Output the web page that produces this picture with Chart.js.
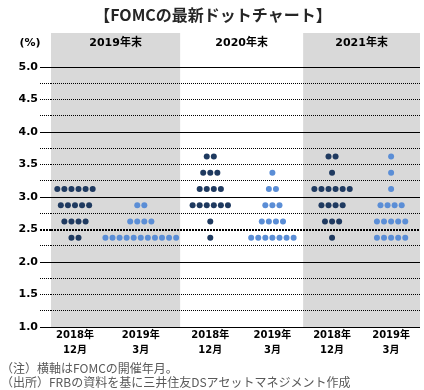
<!DOCTYPE html>
<html lang="ja">
<head>
<meta charset="UTF-8">
<title>FOMCの最新ドットチャート</title>
<script src="https://cdn.jsdelivr.net/npm/chart.js"></script>
<style>
  body { margin: 0; background: #fff; }
</style>
</head>
<body>
<canvas id="chart" width="424" height="390"></canvas>
<script>
const title = '【FOMCの最新ドットチャート】';
const years = ['2019年末', '2020年末', '2021年末'];
const meetings = [['2018年', '12月'], ['2019年', '3月']];
const levels = [3.625, 3.375, 3.125, 2.875, 2.625, 2.375];
// dots per level (top to bottom), one row per year-end
const dec2018 = [
  [0, 0, 6, 5, 4, 2],
  [2, 3, 4, 6, 1, 1],
  [2, 1, 6, 4, 3, 1]
];
const mar2019 = [
  [0, 0, 0, 2, 4, 11],
  [0, 1, 2, 3, 4, 7],
  [1, 1, 1, 4, 5, 5]
];
const notes = [
  '（注）横軸はFOMCの開催年月。',
  '（出所）FRBの資料を基に三井住友DSアセットマネジメント作成'
];

// x slots for the 6 columns, and the edges of the 3 year bands
const slotX = [0.39, 1.46, 2.59, 3.6, 4.57, 5.53];
const bandEdges = [0, 2.1, 4.1, 6];
const dotGap = 0.115;
const font = "'DejaVu Sans', 'Noto Sans CJK JP', sans-serif";
const jpFont = "'Noto Sans CJK JP', sans-serif";

function dots(counts, first) {
  const pts = [];
  counts.forEach((row, g) => {
    const cx = slotX[g * 2 + first];
    row.forEach((n, k) => {
      for (let i = 0; i < n; i++) {
        pts.push({ x: cx + (i - (n - 1) / 2) * dotGap, y: levels[k] });
      }
    });
  });
  return pts;
}

const decor = {
  id: 'decor',
  beforeDraw(chart) {
    const { ctx, chartArea, scales } = chart;
    ctx.save();
    ctx.fillStyle = '#d9d9d9';
    [0, 2].forEach(i => {
      const x1 = scales.x.getPixelForValue(bandEdges[i]);
      const x2 = scales.x.getPixelForValue(bandEdges[i + 1]);
      ctx.fillRect(x1, 33, x2 - x1, chartArea.bottom - 33);
    });
    ctx.restore();
  },
  afterDraw(chart) {
    const { ctx, scales } = chart;
    ctx.save();
    ctx.textBaseline = 'middle';
    ctx.textAlign = 'center';
    ctx.fillStyle = '#262626';
    ctx.font = 'bold 16px ' + jpFont;
    ctx.fillText(title, 213, 15);

    ctx.fillStyle = '#000';
    ctx.font = 'bold 11px ' + font;
    years.forEach((y, i) => {
      const cx = (scales.x.getPixelForValue(bandEdges[i]) + scales.x.getPixelForValue(bandEdges[i + 1])) / 2;
      ctx.fillText(y, cx, 43);
    });
    ctx.fillText('(%)', 30, 43);

    ctx.textAlign = 'left';
    ctx.fillStyle = '#595959';
    ctx.font = '12px ' + jpFont;
    ctx.fillText(notes[0], 1, 368);
    ctx.fillText(notes[1], 1, 382);
    ctx.restore();
  }
};

const isInt = v => Math.abs(v - Math.round(v)) < 1e-6;
const isMid = v => Math.abs(v - 2.5) < 1e-6;
const dashFor = ctx => {
  const v = ctx.tick ? ctx.tick.value : 0;
  if (isInt(v)) return [];
  if (isMid(v)) return [2, 1];
  return [1, 1];
};

new Chart(document.getElementById('chart'), {
  type: 'scatter',
  data: {
    datasets: [
      {
        label: '2018年12月',
        data: dots(dec2018, 0),
        backgroundColor: '#1f3a60',
        pointRadius: 3,
        borderWidth: 0
      },
      {
        label: '2019年3月',
        data: dots(mar2019, 1),
        backgroundColor: '#5b8ed6',
        pointRadius: 3,
        borderWidth: 0
      }
    ]
  },
  options: {
    responsive: false,
    animation: false,
    layout: { padding: { top: 67, right: 3, left: 0, bottom: 0 } },
    plugins: {
      legend: { display: false },
      tooltip: { enabled: false }
    },
    scales: {
      x: {
        type: 'linear',
        min: 0,
        max: 6,
        grid: { display: false, drawTicks: false },
        border: { display: false },
        afterBuildTicks: axis => { axis.ticks = slotX.map(v => ({ value: v })); },
        afterFit: axis => { axis.height = 63; },
        ticks: {
          autoSkip: false,
          maxRotation: 0,
          padding: 1,
          color: '#000',
          font: { family: font, size: 10, weight: 'bold', lineHeight: 1.5 },
          callback: (v, i) => meetings[i % 2]
        }
      },
      y: {
        min: 1,
        max: 5,
        afterFit: axis => { axis.width = 51; },
        ticks: {
          stepSize: 0.25,
          padding: 2,
          color: '#000',
          font: { family: font, size: 11, weight: 'bold' },
          callback: v => (Math.round(v * 4) % 2 === 0 ? v.toFixed(1) : '')
        },
        grid: {
          color: '#000',
          tickColor: '#000',
          tickLength: 11,
          lineWidth: ctx => (ctx.tick && isMid(ctx.tick.value) ? 2 : 1),
          tickWidth: ctx => (ctx.tick && isMid(ctx.tick.value) ? 2 : 1),
          tickBorderDash: dashFor
        },
        border: { display: false, dash: dashFor }
      }
    }
  },
  plugins: [decor]
});
</script>
</body>
</html>
